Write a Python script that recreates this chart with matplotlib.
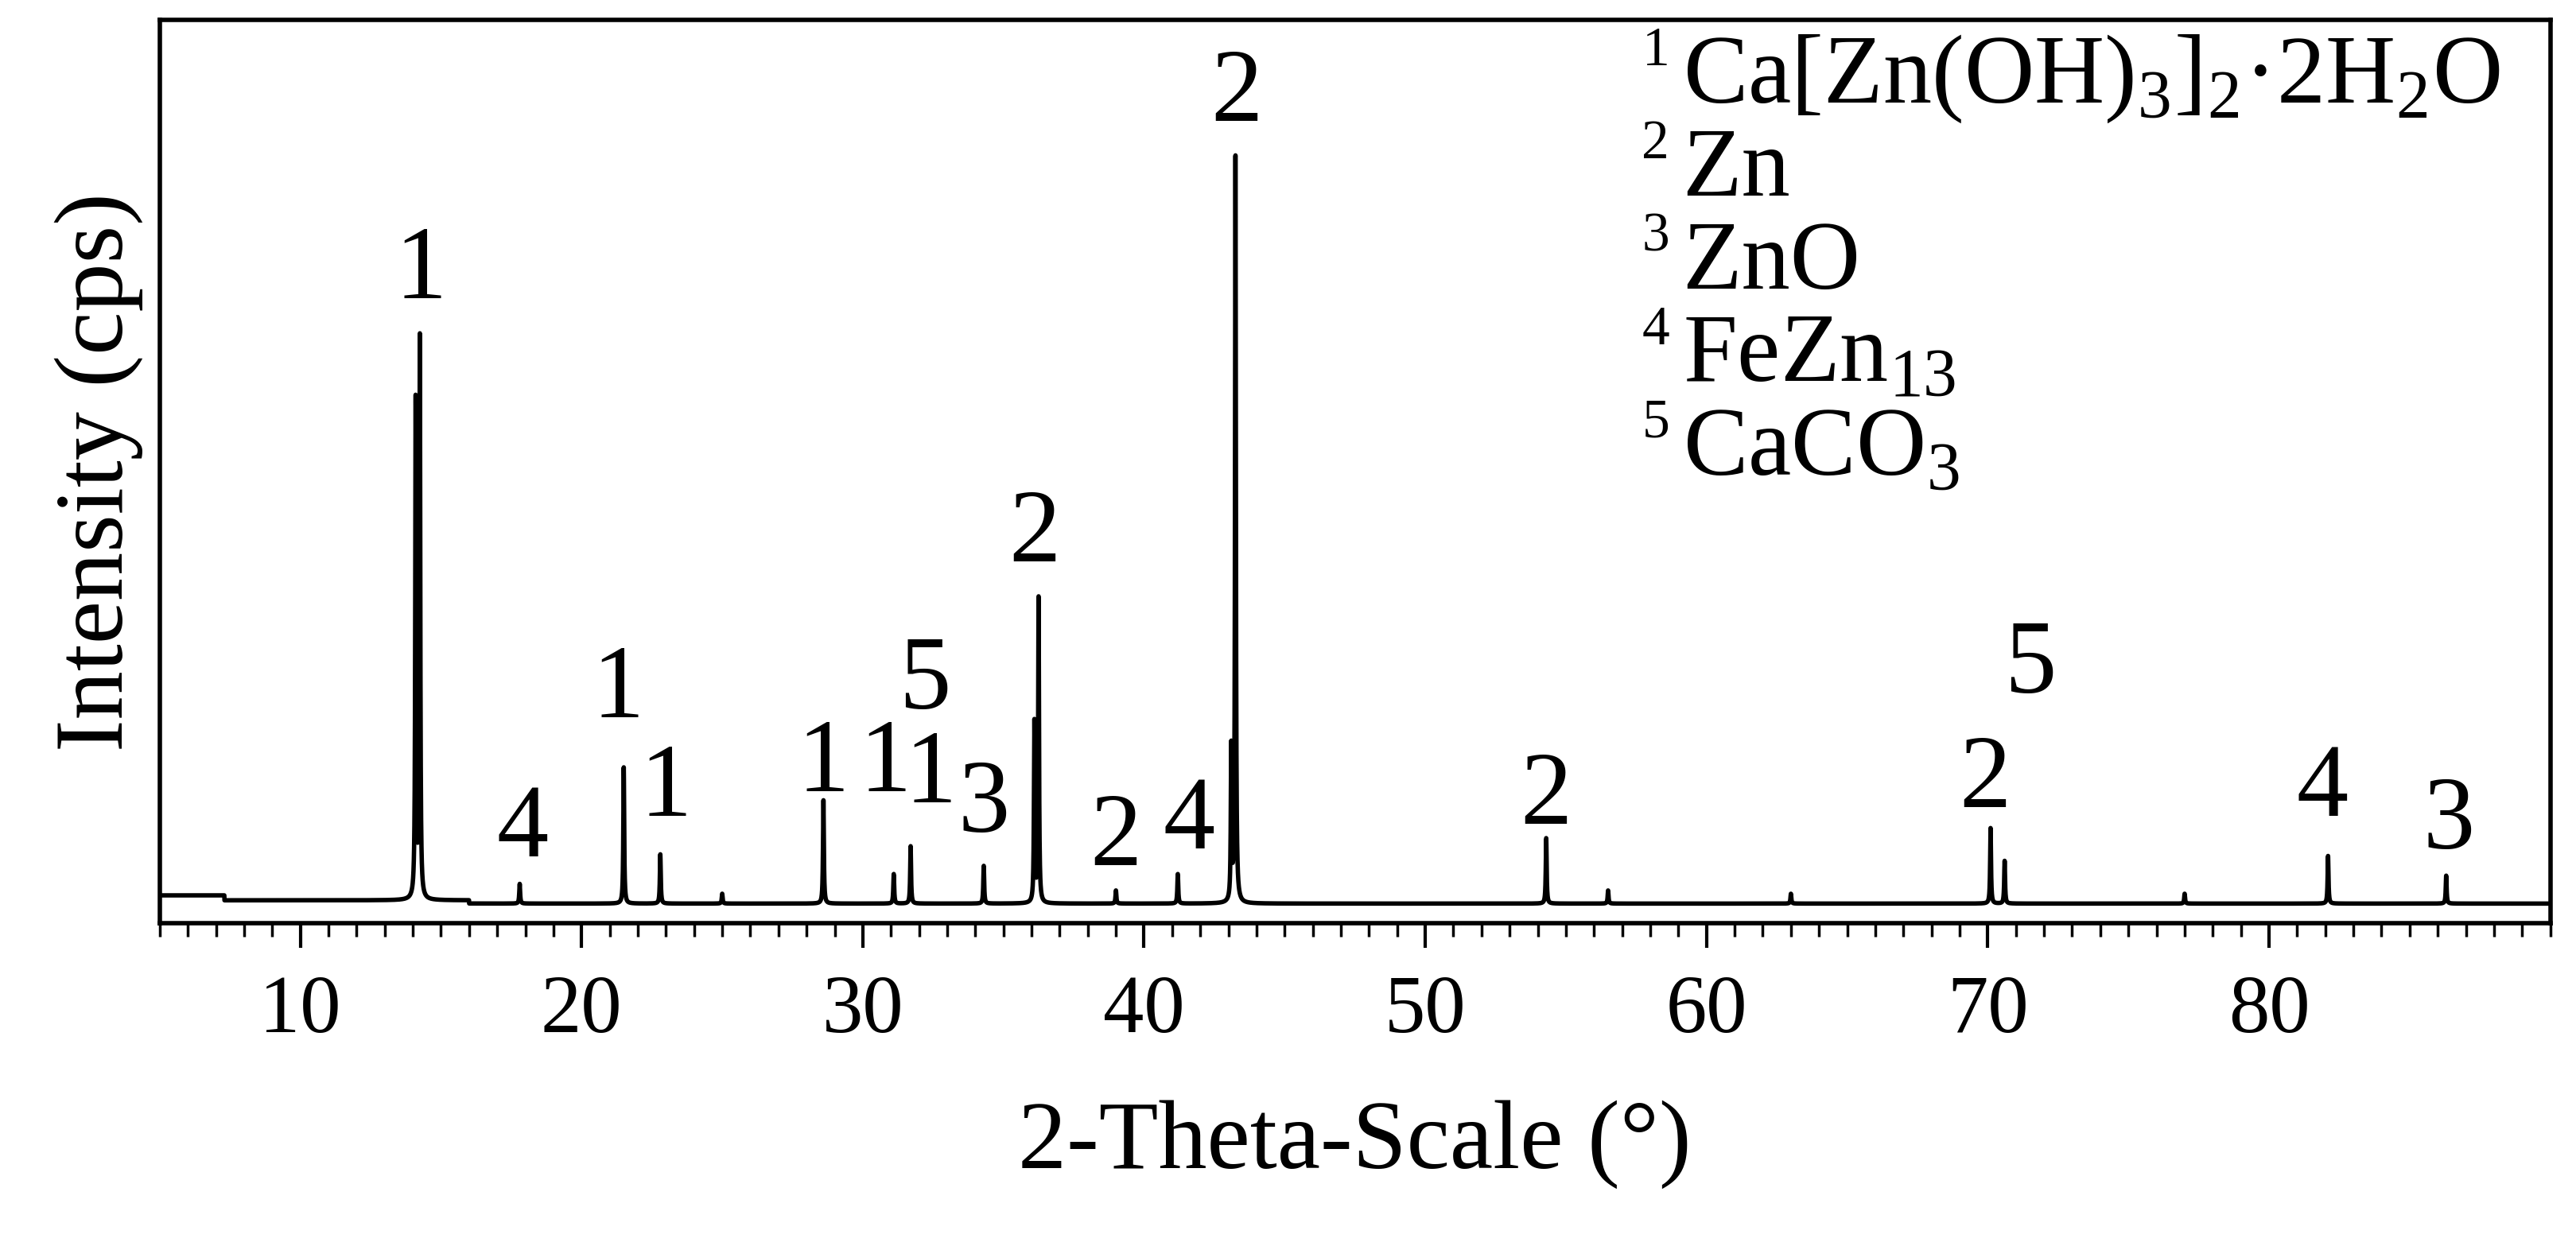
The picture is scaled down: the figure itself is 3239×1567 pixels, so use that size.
import numpy as np
import matplotlib.pyplot as plt
from matplotlib.ticker import MultipleLocator, FixedFormatter

plt.rcParams['font.family'] = 'Liberation Serif'
plt.rcParams['mathtext.fontset'] = 'custom'
plt.rcParams['mathtext.rm'] = 'Liberation Serif'

# peak positions (2theta) and heights (arbitrary cps units)
peak_pos = [14.1, 14.25, 17.8, 21.5, 22.8, 28.6, 31.1, 31.7, 34.3, 36.1, 36.25,
            39.0, 41.2, 43.1, 43.25, 54.3, 56.5, 70.1, 70.6, 82.1, 86.3, 25.0, 63.0, 77.0]
peak_h = [303, 341, 12, 83, 30, 63, 18, 35, 23, 110, 186,
          8, 18, 93, 456, 40, 8, 46, 26, 29, 17, 6, 6, 6]

label_x = [14.3, 17.9, 21.3, 23.0, 28.6, 30.8, 32.2, 32.4, 34.3, 36.1, 39.0, 41.6,
           43.3, 54.3, 69.9, 71.5, 81.9, 86.4]
label_y = [358, 18, 103, 43, 58, 58, 108, 51, 33, 198, 13, 23, 466, 38, 48, 118, 43, 23]
label_txt = ['1', '4', '1', '1', '1', '1', '5', '1', '3', '2', '2', '4', '2', '2', '2', '5', '4', '3']

legend_num = ['1', '2', '3', '4', '5']
legend_txt = [r'Ca[Zn(OH)$_3$]$_2$·2H$_2$O', 'Zn', 'ZnO', r'FeZn$_{13}$', r'CaCO$_3$']

x = np.linspace(5, 90, 34000)
y = np.full_like(x, 3.0)
y[x < 16] = 5
y[x < 7.3] = 8
for p, h in zip(peak_pos, peak_h):
    y += h / (1 + ((x - p) / 0.018) ** 2)

fig = plt.figure(figsize=(32.39, 15.67), dpi=100)
ax = fig.add_axes([0.062, 0.259, 0.928, 0.725])
ax.plot(x, y, color='black', lw=4)
ax.set_xlim(5, 90)
ax.set_ylim(-9, 541)
ax.set_yticks([])
ax.set_xticks([10, 20, 30, 40, 50, 60, 70, 80])
ax.xaxis.set_minor_locator(MultipleLocator(1))
ax.tick_params(axis='x', which='major', length=22, width=3, labelsize=74, pad=25)
ax.tick_params(axis='x', which='minor', length=12, width=2.5)
for s in ax.spines.values():
    s.set_linewidth(4)

for lx, ly, t in zip(label_x, label_y, label_txt):
    ax.text(lx, ly, t, ha='center', va='bottom', fontsize=94)

for i, (n, t) in enumerate(zip(legend_num, legend_txt)):
    yy = 0.935 - i * 0.103
    ax.text(0.62, yy + 0.03, n, transform=ax.transAxes, fontsize=50, va='center')
    ax.text(0.637, yy, t, transform=ax.transAxes, fontsize=88, va='center')

ax.set_xlabel('2-Theta-Scale (°)', fontsize=88, labelpad=45)
ax.set_ylabel('Intensity (cps)', fontsize=88, labelpad=15)
fig.savefig('out.png')
